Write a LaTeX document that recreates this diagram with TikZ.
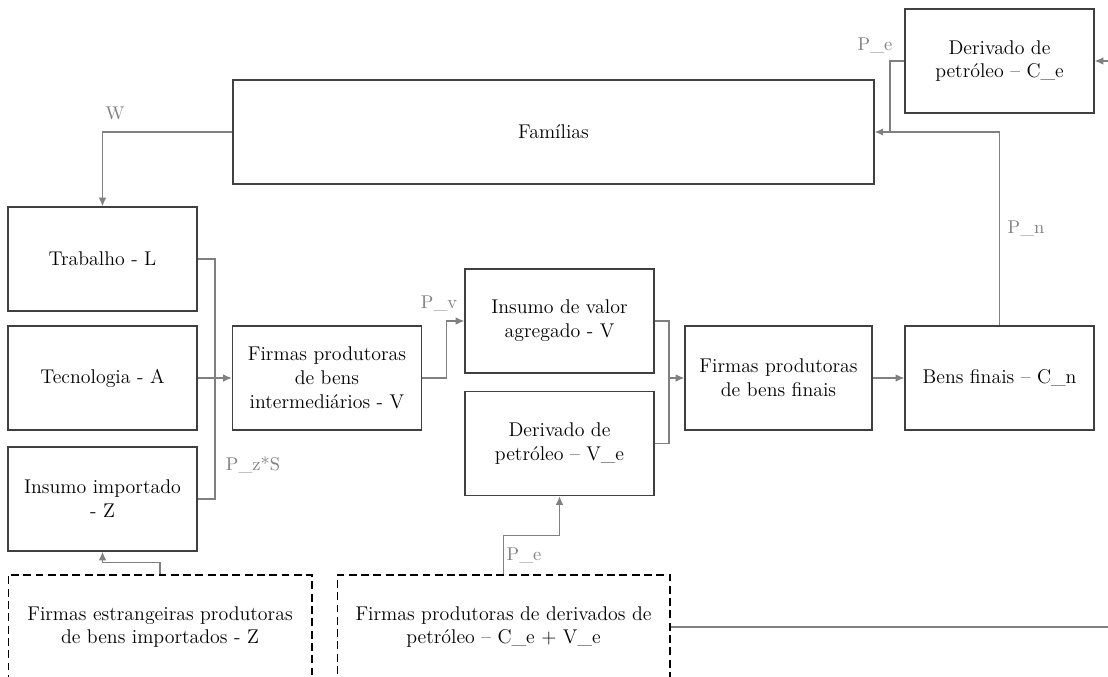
\documentclass[tikz,border=0pt]{standalone}
\usetikzlibrary{arrows.meta}
\begin{document}
\begin{tikzpicture}[> = {Latex[length=1.7mm, width=1.5mm]}, % arrow head style
                x = 0.02cm, y = -0.02cm, % one unit = one pixel of the sketch
                font = \fontsize{11.3}{13.6}\selectfont % text size
            ]

            \tikzstyle{caixa}=[draw = black!75, line width = 0.9pt, rectangle,
            align = center, inner sep = 2pt, minimum width = 3.78cm,
            minimum height = 2.08cm]
            \tikzstyle{externa}=[caixa, draw = black, line width = 0.6pt,
            dash pattern = on 4.5pt off 2.5pt]
            \tikzstyle{fluxo}=[draw = black!50, line width = 0.6pt]
            \tikzstyle{preco}=[text = black!50, inner sep = 1pt,
            font = \fontsize{10.5}{12}\selectfont]

            \useasboundingbox (0,0) rectangle (1108,676);
            \clip (0,0) rectangle (1108,676);

            \node[caixa] (ce) at (999.5,61) {Derivado de\\petróleo -- C\_e};
            \node[caixa, minimum width = 12.82cm] (fam) at (553.5,132) {Famílias};
            \node[caixa] (trab) at (102.5,259) {Trabalho - L};
            \node[caixa] (tec) at (102.5,378) {Tecnologia - A};
            \node[caixa] (imp) at (102.5,499) {Insumo importado\\- Z};
            \node[externa, minimum width = 6.08cm] (estr) at (160,627)
            {Firmas estrangeiras produtoras\\de bens importados - Z};
            \node[caixa] (inter) at (327,378)
            {Firmas produtoras\\de bens\\intermediários - V};
            \node[caixa] (val) at (559.5,321) {Insumo de valor\\agregado - V};
            \node[caixa] (ve) at (559.5,443.5) {Derivado de\\petróleo -- V\_e};
            \node[caixa, minimum width = 3.74cm] (fin) at (778.5,378)
            {Firmas produtoras\\de bens finais};
            \node[caixa] (bens) at (999.5,378) {Bens finais -- C\_n};
            \node[externa, minimum width = 6.66cm] (deriv) at (503.5,627)
            {Firmas produtoras de derivados de\\petróleo -- C\_e + V\_e};

            \coordinate (jz) at (215,378);
            \coordinate (jv) at (669,378);
            \coordinate (je) at (890,132);
            \coordinate (fora) at (1140,61);

            \path[fluxo, ->] (fam.west) -| (trab.north);
            \path[fluxo] (trab.east) -| (jz); \path[fluxo] (imp.east) -| (jz);
            \path[fluxo, ->] (tec.east) -- (inter.west);
            \path[fluxo, ->] (inter.east) -- ++(24,0) |- (val.west);
            \path[fluxo] (val.east) -| (jv); \path[fluxo] (ve.east) -| (jv);
            \path[fluxo, ->] (jv) -- (fin.west);
            \path[fluxo, ->] (fin.east) -- (bens.west);
            \path[fluxo, ->] (bens.north) |- (fam.east);
            \path[fluxo] (ce.west) -| (je);
            \path[fluxo, ->] (deriv.north) -- ++(0,-39) -| (ve.south);
            \path[fluxo, ->] (estr.north) -- ++(0,-12) -| (imp.south);
            \path[fluxo, ->] (deriv.east) -| (fora) -- (ce.east);

            \node[preco] (lw) at (115,113) {W};
            \node[preco] (lz) at (253,465) {P\_z*S};
            \node[preco] (lv) at (439,303) {P\_v};
            \node[preco] (ln) at (1026,228) {P\_n};
            \node[preco] (lce) at (875,45) {P\_e};
            \node[preco] (lve) at (524,555) {P\_e};
\end{tikzpicture}
\end{document}
